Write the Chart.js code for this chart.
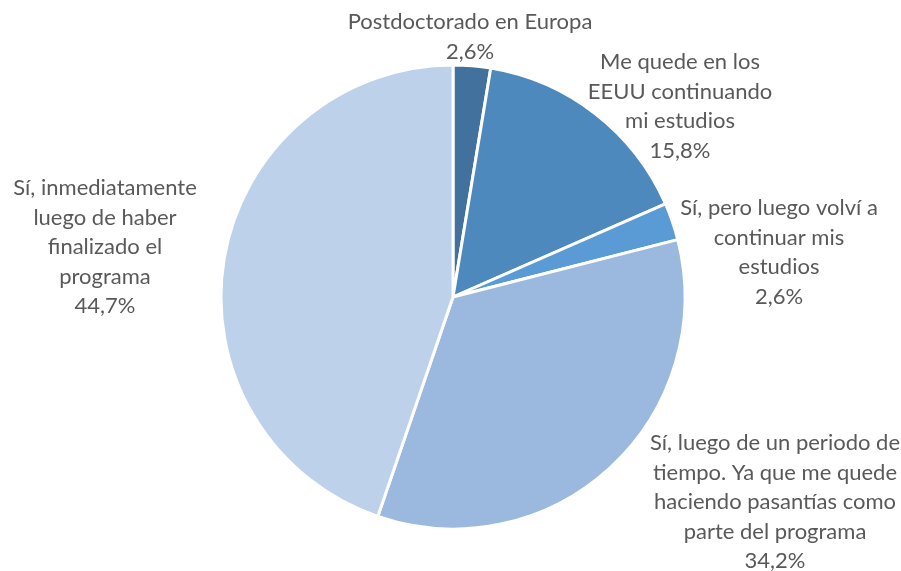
<!DOCTYPE html>
<html lang="es">
<head>
    <meta charset="UTF-8">
    <title>Regreso al país</title>
    <script src="https://cdn.jsdelivr.net/npm/chart.js"></script>
    <style>
        body {
            margin: 0;
            padding: 0;
            background-color: #ffffff;
        }

        #chart-container {
            width: 901px;
            height: 571px;
        }
    </style>
</head>
<body>
    <div id="chart-container">
        <canvas id="pieChart" width="901" height="571"></canvas>
    </div>

    <script>
        // Data (percentages)
        const categories = [
            'Postdoctorado en Europa',
            'Me quede en los EEUU continuando mi estudios',
            'Sí, pero luego volví a continuar mis estudios',
            'Sí, luego de un periodo de tiempo. Ya que me quede haciendo pasantías como parte del programa',
            'Sí, inmediatamente luego de haber finalizado el programa'
        ];
        const values = [2.6, 15.8, 2.6, 34.2, 44.7];
        const sliceColors = ['#41719C', '#4E89BD', '#5B9BD5', '#9BB9DF', '#BDD1EA'];

        // Where each data label sits: wrapped lines, centre x, first line y
        const labelLayout = [
            { lines: ['Postdoctorado en Europa'], x: 470, y: 22 },
            { lines: ['Me quede en los', 'EEUU continuando', 'mi estudios'], x: 680, y: 62 },
            { lines: ['Sí, pero luego volví a', 'continuar mis', 'estudios'], x: 779, y: 208 },
            { lines: ['Sí, luego de un periodo de', 'tiempo. Ya que me quede', 'haciendo pasantías como', 'parte del programa'], x: 775, y: 443 },
            { lines: ['Sí, inmediatamente', 'luego de haber', 'finalizado el', 'programa'], x: 105, y: 188 }
        ];
        const lineHeight = 29.5;

        function formatPct(v) {
            return v.toFixed(1).replace('.', ',') + '%';
        }

        // Draws the outside labels after the pie
        const outsideLabels = {
            id: 'outsideLabels',
            afterDraw(chart) {
                const ctx = chart.ctx;
                ctx.save();
                ctx.font = '22px Lato, "Liberation Sans", sans-serif';
                ctx.fillStyle = '#595959';
                ctx.textAlign = 'center';
                ctx.textBaseline = 'middle';
                labelLayout.forEach((lab, i) => {
                    const allLines = lab.lines.concat([formatPct(chart.data.datasets[0].data[i])]);
                    allLines.forEach((line, j) => {
                        ctx.fillText(line, lab.x, lab.y + j * lineHeight);
                    });
                });
                ctx.restore();
            }
        };

        const ctx = document.getElementById('pieChart').getContext('2d');
        const pieChart = new Chart(ctx, {
            type: 'pie',
            data: {
                labels: categories,
                datasets: [{
                    data: values,
                    backgroundColor: sliceColors,
                    borderColor: '#ffffff',
                    borderWidth: 3,
                    radius: 232
                }]
            },
            options: {
                responsive: false,
                animation: false,
                layout: {
                    padding: { top: 65, bottom: 42, left: 221, right: 216 }
                },
                plugins: {
                    legend: { display: false },
                    tooltip: { enabled: false }
                }
            },
            plugins: [outsideLabels]
        });
    </script>
</body>
</html>
